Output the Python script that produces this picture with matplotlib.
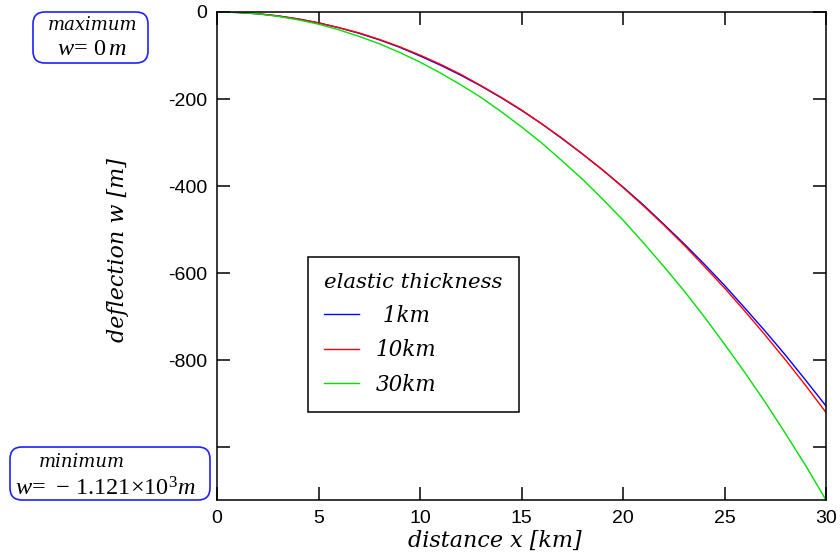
import matplotlib.pyplot as plt
from matplotlib.patches import FancyBboxPatch

plt.rcParams['mathtext.fontset'] = 'custom'
plt.rcParams['mathtext.rm'] = 'Liberation Serif'
plt.rcParams['mathtext.it'] = 'Liberation Serif:italic'

# distance along profile [km]
distance_km = list(range(0, 31))

# deflection [m] for each elastic thickness
w_1km = [0, -1, -4, -9, -16, -25, -36, -49, -64, -81, -101, -122, -145, -170, -197,
         -226, -257, -291, -326, -363, -402, -443, -487, -532, -579, -628, -680,
         -733, -788, -846, -905]
w_10km = [0, -1, -4, -9, -16, -25, -36, -48, -63, -80, -99, -120, -143, -169, -196,
          -225, -257, -290, -326, -363, -403, -445, -489, -535, -584, -634, -687,
          -742, -799, -858, -920]
w_30km = [0, -1, -4, -10, -18, -28, -41, -56, -73, -93, -115, -140, -167, -196, -229,
          -264, -301, -342, -384, -430, -478, -530, -584, -640, -700, -763, -828,
          -896, -968, -1042, -1121]

series_labels = [' 1km', '10km', '30km']
series_colors = ['#0000ff', '#ff0000', '#00e000']

y_ticks = [0, -200, -400, -600, -800, -1000]
y_tick_labels = ['0', '-200', '-400', '-600', '-800', '']
x_ticks = [0, 5, 10, 15, 20, 25, 30]

w_max = 0
w_min = -1121

serif_it = dict(family='DejaVu Serif', style='italic')

fig = plt.figure(figsize=(8.4, 5.6), dpi=100)
ax = fig.add_axes([217 / 840, 60 / 560, 609 / 840, 488 / 560])

for w, lab, col in zip([w_1km, w_10km, w_30km], series_labels, series_colors):
    ax.plot(distance_km, w, color=col, linewidth=1.0, label=lab)

ax.set_xlim(0, 30)
ax.set_ylim(w_min, w_max)
ax.set_xticks(x_ticks)
ax.set_yticks(y_ticks)
ax.set_yticklabels(y_tick_labels)
ax.tick_params(direction='in', length=9.5, width=1.1, top=True, right=True,
               labelsize=14, pad=7)
for lbl in ax.get_xticklabels() + ax.get_yticklabels():
    lbl.set_family('Liberation Sans')
for sp in ax.spines.values():
    sp.set_linewidth(1.1)

ax.set_xlabel('distance x [km]', fontsize=16, **serif_it)
ax.xaxis.set_label_coords(278 / 609, -30 / 488)
ax.set_ylabel('deflection w [m]', fontsize=16, **serif_it)
ax.yaxis.set_label_coords(-88 / 609, 1 - 238 / 488)

leg = ax.legend(title='elastic thickness', loc='upper left',
                bbox_to_anchor=(91 / 609, 1 - 245 / 488), frameon=True,
                fancybox=False, edgecolor='black', framealpha=1,
                handlelength=1.6, handletextpad=0.8, borderpad=0.75,
                labelspacing=0.58, borderaxespad=0,
                prop=dict(size=15.5, **serif_it))
leg.get_title().set_fontproperties(dict(size=15.3, **serif_it))
leg.get_frame().set_linewidth(1.1)
leg._legend_box.align = 'left'

# annotation boxes for the extreme values (positions in inches)
for (x0, y0, w, h) in [(0.33, 4.97, 1.15, 0.51), (0.10, 0.60, 2.00, 0.53)]:
    fig.patches.append(FancyBboxPatch((x0, y0), w, h,
                                      boxstyle='round,pad=0,rounding_size=0.12',
                                      transform=fig.dpi_scale_trans,
                                      facecolor='white', edgecolor='#2020ff',
                                      linewidth=1.2))

fig.text(0.93, 5.35, 'maximum', transform=fig.dpi_scale_trans, ha='center',
         va='center', fontsize=13, **serif_it)
fig.text(0.92, 5.12, r'$w\!=\,0\,m$', transform=fig.dpi_scale_trans,
         ha='center', va='center', fontsize=17.5)
fig.text(0.82, 0.98, 'minimum', transform=fig.dpi_scale_trans, ha='center',
         va='center', fontsize=13, **serif_it)
fig.text(1.05, 0.72, r'$w\!=\,-\,1.121{\times}10^{3}m$',
         transform=fig.dpi_scale_trans, ha='center', va='center', fontsize=17.5)

fig.savefig('out.png', dpi=100)
